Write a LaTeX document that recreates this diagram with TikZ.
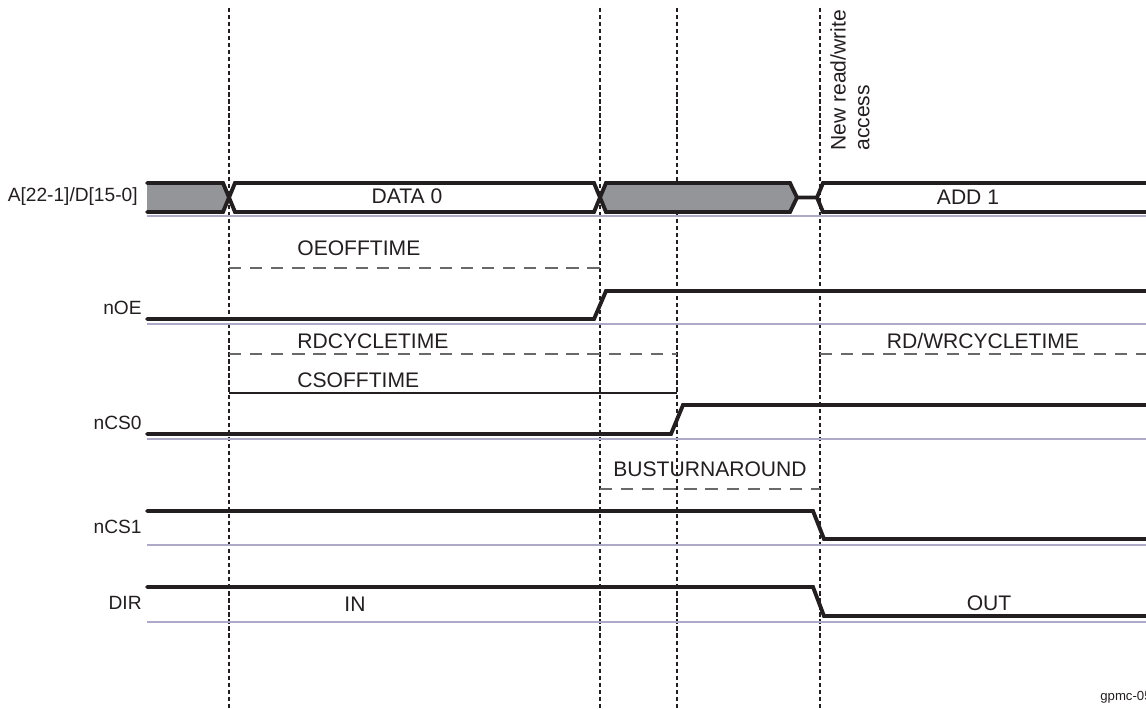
\documentclass[tikz,border=0pt]{standalone}
\usepackage{fontspec}
\setmainfont{Liberation Sans}
\definecolor{ink}{RGB}{35,31,32}
\definecolor{baseln}{RGB}{172,170,200}
\definecolor{busfill}{RGB}{148,149,153}
\definecolor{tgray}{RGB}{105,105,105}
\begin{document}
\begin{tikzpicture}[x=0.02cm, y=-0.02cm,
		sig/.style = {line width=2.2pt, draw=ink, line join=miter, line cap=round},
		bl/.style = {line width=1pt, draw=baseln},
		vl/.style = {line width=0.6pt, draw=ink, dash pattern=on 2.4pt off 1.6pt},
		tm/.style = {line width=0.8pt, draw=tgray, dash pattern=on 7pt off 5pt},
		sl/.style = {line width=0.8pt, draw=ink},
		lb/.style = {font=\fontsize{10.9}{13}\selectfont, text=ink, inner sep=0pt},
		tx/.style = {font=\fontsize{12}{13.5}\selectfont, text=ink, inner sep=0pt}
		]
		\useasboundingbox (0,0) rectangle (1146,709);

		%Time markers
		\foreach \x/\n in {229/t0, 600/t1, 677/t2, 820/t3} {
			\coordinate (\n) at (\x,8);
			\draw[vl] (\n) -- ++(0,700);
		}
		\coordinate (oeoff) at (0,268);
		\coordinate (rdcyc) at (0,354);
		\coordinate (csoff) at (0,393);
		\coordinate (busta) at (0,489);

		%Baselines
		\foreach \y in {216, 324, 439, 545, 622}
			\draw[bl] (147,\y) -- (1146,\y);

		%Bus
		\fill[busfill] (147,183) -- (223,183) -- (229,197.5) -- (223,212) -- (147,212) -- cycle;
		\fill[busfill] (606,183) -- (790,183) -- (797,197.5) -- (790,212) -- (606,212) -- (600,197.5) -- cycle;
		\draw[sig] (147,183) -- (223,183) -- (235,212) -- (594,212) -- (606,183) -- (790,183) -- (797,197.5);
		\draw[sig] (147,212) -- (223,212) -- (235,183) -- (594,183) -- (606,212) -- (790,212) -- (797,197.5) -- (817,197.5) -- (823,183) -- (1146,183);
		\draw[sig] (817,197.5) -- (823,212) -- (1146,212);

		%Signals
		\draw[sig] (147,319) -- (594,319) -- (606,291) -- (1146,291);
		\draw[sig] (147,434) -- (671,434) -- (683,405) -- (1146,405);
		\draw[sig] (147,511) -- (813,511) -- (824,539) -- (1146,539);
		\draw[sig] (147,587) -- (813,587) -- (824,616) -- (1146,616);

		%Names
		\node[lb, anchor=east]	(nbus)	at	(138,197)	{A[22-1]/D[15-0]};
		\node[lb, anchor=east]	(noe)	at	(142,307.5)	{nOE};
		\node[lb, anchor=east]	(ncs0)	at	(142,422.5)	{nCS0};
		\node[lb, anchor=east]	(ncs1)	at	(142,527)	{nCS1};
		\node[lb, anchor=east]	(ndir)	at	(142,603)	{DIR};

		%Values
		\node[tx]	(data0)	at	(407,196)	{DATA 0};
		\node[tx]	(add1)	at	(968,197)	{ADD 1};
		\node[tx]	(in)	at	(355,604)	{IN};
		\node[tx]	(out)	at	(989,603.5)	{OUT};
		\node[tx, rotate=90, anchor=north west, align=left]	(newacc)	at	(830,151)	{New read/write\\access};

		%Timings
		\draw[tm]	(t0 |- oeoff)	--	(t1 |- oeoff);
		\draw[tm]	(t0 |- rdcyc)	--	(t2 |- rdcyc);
		\draw[sl]	(t0 |- csoff)	--	(t2 |- csoff);
		\draw[tm]	(t3 |- rdcyc)	--	(1146,354);
		\draw[tm]	(t1 |- busta)	--	(t3 |- busta);
		\node[tx, anchor=west]	(oeofftime)	at	(297,248)	{OEOFFTIME};
		\node[tx, anchor=west]	(rdcycletime)	at	(297,341)	{RDCYCLETIME};
		\node[tx, anchor=west]	(csofftime)	at	(297,380)	{CSOFFTIME};
		\node[tx]	(rdwrcycletime)	at	(983,340.5)	{RD/WRCYCLETIME};
		\node[tx]	(busturnaround)	at	(710,469)	{BUSTURNAROUND};

		\node[lb, anchor=west, font=\fontsize{7.5}{9}\selectfont]	(fig)	at	(1100,697)	{gpmc-059};
	\end{tikzpicture}
\end{document}
